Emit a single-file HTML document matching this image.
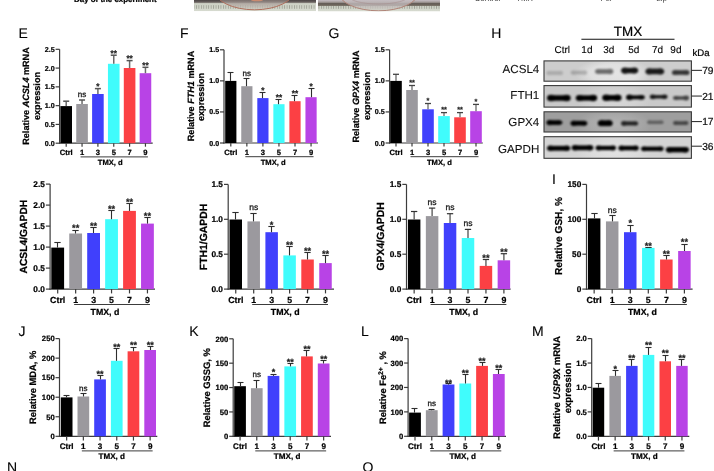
<!DOCTYPE html>
<html><head><meta charset="utf-8"><style>
html,body{margin:0;padding:0;background:#fff;overflow:hidden;}
svg{display:block;font-family:"Liberation Sans", sans-serif;will-change:transform;text-rendering:geometricPrecision;}
</style></head><body>
<svg width="714" height="471" viewBox="0 0 714 471" font-family='"Liberation Sans", sans-serif'>
<rect width="714" height="471" fill="#fff"/>
<text x="115.3" y="2" font-size="7.9" font-weight="bold" text-anchor="middle" fill="#000" stroke="#000" stroke-width="0.22" >Day of the experiment</text>
<defs><linearGradient id="ph1" x1="0" y1="0" x2="0" y2="11.2" gradientUnits="userSpaceOnUse"><stop offset="0" stop-color="#4a4444"/><stop offset="0.2" stop-color="#6a6260"/><stop offset="0.32" stop-color="#cdd1c5"/><stop offset="1" stop-color="#d6dacf"/></linearGradient><linearGradient id="ph2" x1="0" y1="0" x2="0" y2="11.5" gradientUnits="userSpaceOnUse"><stop offset="0" stop-color="#c6bec4"/><stop offset="0.2" stop-color="#a09896"/><stop offset="0.32" stop-color="#5e5650"/><stop offset="0.48" stop-color="#7a7268"/><stop offset="0.56" stop-color="#cfd3c7"/><stop offset="1" stop-color="#d6dacf"/></linearGradient><linearGradient id="dish1" x1="0" y1="0" x2="0" y2="10" gradientUnits="userSpaceOnUse"><stop offset="0" stop-color="#8a7e7a"/><stop offset="0.5" stop-color="#b4aaa4"/><stop offset="1" stop-color="#cfcfc4"/></linearGradient><linearGradient id="dish2" x1="0" y1="0" x2="0" y2="11" gradientUnits="userSpaceOnUse"><stop offset="0" stop-color="#c4bcc0"/><stop offset="0.5" stop-color="#c0b8b8"/><stop offset="1" stop-color="#d0d0c6"/></linearGradient><pattern id="rul" x="0" y="0" width="2.45" height="12" patternUnits="userSpaceOnUse"><rect x="0" y="5.2" width="0.9" height="3.6" fill="#6d7066" fill-opacity="0.5"/></pattern><clipPath id="cp1"><rect x="194" y="0" width="122" height="11.2"/></clipPath><clipPath id="cp2"><rect x="317.8" y="0" width="122.2" height="11.5"/></clipPath></defs>
<g clip-path="url(#cp1)"><rect x="194" y="0" width="122" height="11.2" fill="url(#ph1)"/><rect x="194" y="0" width="122" height="11.2" fill="url(#rul)"/><ellipse cx="254.5" cy="-10" rx="40" ry="19.8" fill="url(#dish1)" fill-opacity="0.75" stroke="#b0705e" stroke-width="1"/><ellipse cx="257" cy="0" rx="6" ry="1.3" fill="#c98a70"/></g>
<g clip-path="url(#cp2)"><rect x="317.8" y="0" width="122.2" height="11.5" fill="url(#ph2)"/><rect x="317.8" y="0" width="122.2" height="11.5" fill="url(#rul)"/><ellipse cx="378.5" cy="-8" rx="40" ry="18.8" fill="url(#dish2)" fill-opacity="0.8" stroke="#b08478" stroke-width="1"/><ellipse cx="378.5" cy="-4" rx="30" ry="8" fill="none" stroke="#a89090" stroke-width="0.6"/></g>
<text x="487.5" y="1.2" font-size="8" font-weight="normal" text-anchor="middle" fill="#444" >Control</text>
<text x="524.5" y="1.2" font-size="8" font-weight="normal" text-anchor="middle" fill="#444" >TMX</text>
<text x="606.5" y="1.2" font-size="8" font-weight="normal" text-anchor="middle" fill="#444" >Fer</text>
<text x="661.5" y="1.2" font-size="8" font-weight="normal" text-anchor="middle" fill="#444" >Lip</text>
<line x1="59.6" y1="49.3" x2="59.6" y2="143.8" stroke="#3c3c3c" stroke-width="1.2"/>
<line x1="59" y1="143.2" x2="152.7" y2="143.2" stroke="#3c3c3c" stroke-width="1.2"/>
<line x1="55.6" y1="143.2" x2="59.6" y2="143.2" stroke="#3c3c3c" stroke-width="1.2"/>
<text x="54.7" y="145.76" font-size="7.1" font-weight="bold" text-anchor="end" fill="#000" stroke="#000" stroke-width="0.22" >0.0</text>
<line x1="55.6" y1="124.42" x2="59.6" y2="124.42" stroke="#3c3c3c" stroke-width="1.2"/>
<text x="54.7" y="126.98" font-size="7.1" font-weight="bold" text-anchor="end" fill="#000" stroke="#000" stroke-width="0.22" >0.5</text>
<line x1="55.6" y1="105.64" x2="59.6" y2="105.64" stroke="#3c3c3c" stroke-width="1.2"/>
<text x="54.7" y="108.2" font-size="7.1" font-weight="bold" text-anchor="end" fill="#000" stroke="#000" stroke-width="0.22" >1.0</text>
<line x1="55.6" y1="86.86" x2="59.6" y2="86.86" stroke="#3c3c3c" stroke-width="1.2"/>
<text x="54.7" y="89.42" font-size="7.1" font-weight="bold" text-anchor="end" fill="#000" stroke="#000" stroke-width="0.22" >1.5</text>
<line x1="55.6" y1="68.08" x2="59.6" y2="68.08" stroke="#3c3c3c" stroke-width="1.2"/>
<text x="54.7" y="70.64" font-size="7.1" font-weight="bold" text-anchor="end" fill="#000" stroke="#000" stroke-width="0.22" >2.0</text>
<line x1="55.6" y1="49.3" x2="59.6" y2="49.3" stroke="#3c3c3c" stroke-width="1.2"/>
<text x="54.7" y="51.86" font-size="7.1" font-weight="bold" text-anchor="end" fill="#000" stroke="#000" stroke-width="0.22" >2.5</text>
<rect x="60.4" y="106.1" width="11.6" height="37.1" fill="#000000"/>
<line x1="66.2" y1="101.2" x2="66.2" y2="106.1" stroke="#6a6a6a" stroke-width="1.5"/>
<line x1="63.2" y1="101.2" x2="69.2" y2="101.2" stroke="#555" stroke-width="1.5"/>
<rect x="76.25" y="104" width="11.6" height="39.2" fill="#9b999e"/>
<line x1="82.05" y1="100" x2="82.05" y2="104" stroke="#6a6a6a" stroke-width="1.5"/>
<line x1="79.05" y1="100" x2="85.05" y2="100" stroke="#555" stroke-width="1.5"/>
<text x="82.05" y="97.2" font-size="8" font-weight="normal" text-anchor="middle" fill="#1a1a1a" stroke="#1a1a1a" stroke-width="0.3" >ns</text>
<rect x="92.1" y="94" width="11.6" height="49.2" fill="#4040fc"/>
<line x1="97.9" y1="88.6" x2="97.9" y2="94" stroke="#6a6a6a" stroke-width="1.5"/>
<line x1="94.9" y1="88.6" x2="100.9" y2="88.6" stroke="#555" stroke-width="1.5"/>
<text x="97.9" y="89.4" font-size="8.2" font-weight="bold" text-anchor="middle" fill="#222" stroke="#222" stroke-width="0.22" >*</text>
<rect x="107.95" y="63.8" width="11.6" height="79.4" fill="#40fcfc"/>
<line x1="113.75" y1="55.2" x2="113.75" y2="63.8" stroke="#6a6a6a" stroke-width="1.5"/>
<line x1="110.75" y1="55.2" x2="116.75" y2="55.2" stroke="#555" stroke-width="1.5"/>
<text x="113.75" y="56" font-size="8.2" font-weight="bold" text-anchor="middle" fill="#222" stroke="#222" stroke-width="0.22" >**</text>
<rect x="123.8" y="68" width="11.6" height="75.2" fill="#fc4044"/>
<line x1="129.6" y1="60.6" x2="129.6" y2="68" stroke="#6a6a6a" stroke-width="1.5"/>
<line x1="126.6" y1="60.6" x2="132.6" y2="60.6" stroke="#555" stroke-width="1.5"/>
<text x="129.6" y="61.4" font-size="8.2" font-weight="bold" text-anchor="middle" fill="#222" stroke="#222" stroke-width="0.22" >**</text>
<rect x="139.65" y="73.2" width="11.6" height="70" fill="#b843e6"/>
<line x1="145.45" y1="67.3" x2="145.45" y2="73.2" stroke="#6a6a6a" stroke-width="1.5"/>
<line x1="142.45" y1="67.3" x2="148.45" y2="67.3" stroke="#555" stroke-width="1.5"/>
<text x="145.45" y="68.1" font-size="8.2" font-weight="bold" text-anchor="middle" fill="#222" stroke="#222" stroke-width="0.22" >**</text>
<line x1="66.2" y1="143.2" x2="66.2" y2="146.7" stroke="#3c3c3c" stroke-width="1.2"/>
<line x1="82.05" y1="143.2" x2="82.05" y2="146.7" stroke="#3c3c3c" stroke-width="1.2"/>
<line x1="97.9" y1="143.2" x2="97.9" y2="146.7" stroke="#3c3c3c" stroke-width="1.2"/>
<line x1="113.75" y1="143.2" x2="113.75" y2="146.7" stroke="#3c3c3c" stroke-width="1.2"/>
<line x1="129.6" y1="143.2" x2="129.6" y2="146.7" stroke="#3c3c3c" stroke-width="1.2"/>
<line x1="145.45" y1="143.2" x2="145.45" y2="146.7" stroke="#3c3c3c" stroke-width="1.2"/>
<text x="66.2" y="155.2" font-size="7.6" font-weight="bold" text-anchor="middle" fill="#000" stroke="#000" stroke-width="0.22" >Ctrl</text>
<text x="82.05" y="155.2" font-size="7.6" font-weight="bold" text-anchor="middle" fill="#000" stroke="#000" stroke-width="0.22" >1</text>
<text x="97.9" y="155.2" font-size="7.6" font-weight="bold" text-anchor="middle" fill="#000" stroke="#000" stroke-width="0.22" >3</text>
<text x="113.75" y="155.2" font-size="7.6" font-weight="bold" text-anchor="middle" fill="#000" stroke="#000" stroke-width="0.22" >5</text>
<text x="129.6" y="155.2" font-size="7.6" font-weight="bold" text-anchor="middle" fill="#000" stroke="#000" stroke-width="0.22" >7</text>
<text x="145.45" y="155.2" font-size="7.6" font-weight="bold" text-anchor="middle" fill="#000" stroke="#000" stroke-width="0.22" >9</text>
<line x1="80.55" y1="156.9" x2="147.95" y2="156.9" stroke="#3c3c3c" stroke-width="1"/>
<text x="110.25" y="165" font-size="7.6" font-weight="bold" text-anchor="middle" fill="#000" stroke="#000" stroke-width="0.22" >TMX, d</text>
<text transform="translate(28.9,96) rotate(-90)" x="0" y="0" font-size="9.1" font-weight="bold" text-anchor="middle" stroke="#000" stroke-width="0.22">Relative <tspan font-style="italic">ACSL4</tspan> mRNA</text>
<text transform="translate(39.7,96) rotate(-90)" x="0" y="0" font-size="9.1" font-weight="bold" text-anchor="middle" stroke="#000" stroke-width="0.22">expression</text>
<line x1="224" y1="49.8" x2="224" y2="143.6" stroke="#3c3c3c" stroke-width="1.2"/>
<line x1="223.4" y1="143" x2="318" y2="143" stroke="#3c3c3c" stroke-width="1.2"/>
<line x1="220" y1="143" x2="224" y2="143" stroke="#3c3c3c" stroke-width="1.2"/>
<text x="219.1" y="145.56" font-size="7.1" font-weight="bold" text-anchor="end" fill="#000" stroke="#000" stroke-width="0.22" >0.0</text>
<line x1="220" y1="111.93" x2="224" y2="111.93" stroke="#3c3c3c" stroke-width="1.2"/>
<text x="219.1" y="114.49" font-size="7.1" font-weight="bold" text-anchor="end" fill="#000" stroke="#000" stroke-width="0.22" >0.5</text>
<line x1="220" y1="80.87" x2="224" y2="80.87" stroke="#3c3c3c" stroke-width="1.2"/>
<text x="219.1" y="83.42" font-size="7.1" font-weight="bold" text-anchor="end" fill="#000" stroke="#000" stroke-width="0.22" >1.0</text>
<line x1="220" y1="49.8" x2="224" y2="49.8" stroke="#3c3c3c" stroke-width="1.2"/>
<text x="219.1" y="52.36" font-size="7.1" font-weight="bold" text-anchor="end" fill="#000" stroke="#000" stroke-width="0.22" >1.5</text>
<rect x="225.2" y="80.9" width="11.2" height="62.1" fill="#000000"/>
<line x1="230.5" y1="72.5" x2="230.5" y2="80.9" stroke="#2e2e2e" stroke-width="1.1"/>
<line x1="227.5" y1="72.5" x2="233.5" y2="72.5" stroke="#2e2e2e" stroke-width="1.1"/>
<rect x="241.25" y="86.2" width="11.2" height="56.8" fill="#9b999e"/>
<line x1="246.5" y1="78.5" x2="246.5" y2="86.2" stroke="#2e2e2e" stroke-width="1.1"/>
<line x1="243.5" y1="78.5" x2="249.5" y2="78.5" stroke="#2e2e2e" stroke-width="1.1"/>
<text x="246.85" y="75.7" font-size="8" font-weight="normal" text-anchor="middle" fill="#1a1a1a" stroke="#1a1a1a" stroke-width="0.3" >ns</text>
<rect x="257.3" y="98.1" width="11.2" height="44.9" fill="#4040fc"/>
<line x1="262.5" y1="92.5" x2="262.5" y2="98.1" stroke="#2e2e2e" stroke-width="1.1"/>
<line x1="259.5" y1="92.5" x2="265.5" y2="92.5" stroke="#2e2e2e" stroke-width="1.1"/>
<text x="262.9" y="93.1" font-size="8.2" font-weight="bold" text-anchor="middle" fill="#222" stroke="#222" stroke-width="0.22" >*</text>
<rect x="273.35" y="104.2" width="11.2" height="38.8" fill="#40fcfc"/>
<line x1="278.5" y1="99.5" x2="278.5" y2="104.2" stroke="#2e2e2e" stroke-width="1.1"/>
<line x1="275.5" y1="99.5" x2="281.5" y2="99.5" stroke="#2e2e2e" stroke-width="1.1"/>
<text x="278.95" y="100.1" font-size="8.2" font-weight="bold" text-anchor="middle" fill="#222" stroke="#222" stroke-width="0.22" >**</text>
<rect x="289.4" y="101.2" width="11.2" height="41.8" fill="#fc4044"/>
<line x1="294.5" y1="95.5" x2="294.5" y2="101.2" stroke="#2e2e2e" stroke-width="1.1"/>
<line x1="291.5" y1="95.5" x2="297.5" y2="95.5" stroke="#2e2e2e" stroke-width="1.1"/>
<text x="295" y="96.1" font-size="8.2" font-weight="bold" text-anchor="middle" fill="#222" stroke="#222" stroke-width="0.22" >**</text>
<rect x="305.45" y="97.2" width="11.2" height="45.8" fill="#b843e6"/>
<line x1="311.5" y1="88.5" x2="311.5" y2="97.2" stroke="#2e2e2e" stroke-width="1.1"/>
<line x1="308.5" y1="88.5" x2="314.5" y2="88.5" stroke="#2e2e2e" stroke-width="1.1"/>
<text x="311.05" y="89.4" font-size="8.2" font-weight="bold" text-anchor="middle" fill="#222" stroke="#222" stroke-width="0.22" >*</text>
<line x1="230.8" y1="143" x2="230.8" y2="146.5" stroke="#3c3c3c" stroke-width="1.2"/>
<line x1="246.85" y1="143" x2="246.85" y2="146.5" stroke="#3c3c3c" stroke-width="1.2"/>
<line x1="262.9" y1="143" x2="262.9" y2="146.5" stroke="#3c3c3c" stroke-width="1.2"/>
<line x1="278.95" y1="143" x2="278.95" y2="146.5" stroke="#3c3c3c" stroke-width="1.2"/>
<line x1="295" y1="143" x2="295" y2="146.5" stroke="#3c3c3c" stroke-width="1.2"/>
<line x1="311.05" y1="143" x2="311.05" y2="146.5" stroke="#3c3c3c" stroke-width="1.2"/>
<text x="230.8" y="155" font-size="7.6" font-weight="bold" text-anchor="middle" fill="#000" stroke="#000" stroke-width="0.22" >Ctrl</text>
<text x="246.85" y="155" font-size="7.6" font-weight="bold" text-anchor="middle" fill="#000" stroke="#000" stroke-width="0.22" >1</text>
<text x="262.9" y="155" font-size="7.6" font-weight="bold" text-anchor="middle" fill="#000" stroke="#000" stroke-width="0.22" >3</text>
<text x="278.95" y="155" font-size="7.6" font-weight="bold" text-anchor="middle" fill="#000" stroke="#000" stroke-width="0.22" >5</text>
<text x="295" y="155" font-size="7.6" font-weight="bold" text-anchor="middle" fill="#000" stroke="#000" stroke-width="0.22" >7</text>
<text x="311.05" y="155" font-size="7.6" font-weight="bold" text-anchor="middle" fill="#000" stroke="#000" stroke-width="0.22" >9</text>
<line x1="245.35" y1="156.7" x2="313.55" y2="156.7" stroke="#3c3c3c" stroke-width="1"/>
<text x="273.15" y="164.8" font-size="7.6" font-weight="bold" text-anchor="middle" fill="#000" stroke="#000" stroke-width="0.22" >TMX, d</text>
<text transform="translate(193.6,96) rotate(-90)" x="0" y="0" font-size="9.1" font-weight="bold" text-anchor="middle" stroke="#000" stroke-width="0.22">Relative <tspan font-style="italic">FTH1</tspan> mRNA</text>
<text transform="translate(203.9,97) rotate(-90)" x="0" y="0" font-size="9.1" font-weight="bold" text-anchor="middle" stroke="#000" stroke-width="0.22">expression</text>
<line x1="389.6" y1="49.8" x2="389.6" y2="143.6" stroke="#3c3c3c" stroke-width="1.2"/>
<line x1="389" y1="143" x2="482.8" y2="143" stroke="#3c3c3c" stroke-width="1.2"/>
<line x1="385.6" y1="143" x2="389.6" y2="143" stroke="#3c3c3c" stroke-width="1.2"/>
<text x="384.7" y="145.56" font-size="7.1" font-weight="bold" text-anchor="end" fill="#000" stroke="#000" stroke-width="0.22" >0.0</text>
<line x1="385.6" y1="111.93" x2="389.6" y2="111.93" stroke="#3c3c3c" stroke-width="1.2"/>
<text x="384.7" y="114.49" font-size="7.1" font-weight="bold" text-anchor="end" fill="#000" stroke="#000" stroke-width="0.22" >0.5</text>
<line x1="385.6" y1="80.87" x2="389.6" y2="80.87" stroke="#3c3c3c" stroke-width="1.2"/>
<text x="384.7" y="83.42" font-size="7.1" font-weight="bold" text-anchor="end" fill="#000" stroke="#000" stroke-width="0.22" >1.0</text>
<line x1="385.6" y1="49.8" x2="389.6" y2="49.8" stroke="#3c3c3c" stroke-width="1.2"/>
<text x="384.7" y="52.36" font-size="7.1" font-weight="bold" text-anchor="end" fill="#000" stroke="#000" stroke-width="0.22" >1.5</text>
<rect x="390.2" y="80.9" width="11.6" height="62.1" fill="#000000"/>
<line x1="396" y1="74.3" x2="396" y2="80.9" stroke="#6a6a6a" stroke-width="1.3"/>
<line x1="393" y1="74.3" x2="399" y2="74.3" stroke="#444" stroke-width="1.3"/>
<rect x="406.2" y="90" width="11.6" height="53" fill="#9b999e"/>
<line x1="412" y1="85.5" x2="412" y2="90" stroke="#6a6a6a" stroke-width="1.3"/>
<line x1="409" y1="85.5" x2="415" y2="85.5" stroke="#444" stroke-width="1.3"/>
<text x="412" y="85.11" font-size="7.3" font-weight="bold" text-anchor="middle" fill="#222" stroke="#222" stroke-width="0.22" >**</text>
<rect x="422.2" y="109.3" width="11.6" height="33.7" fill="#4040fc"/>
<line x1="428" y1="103.5" x2="428" y2="109.3" stroke="#6a6a6a" stroke-width="1.3"/>
<line x1="425" y1="103.5" x2="431" y2="103.5" stroke="#444" stroke-width="1.3"/>
<text x="428" y="103.11" font-size="7.3" font-weight="bold" text-anchor="middle" fill="#222" stroke="#222" stroke-width="0.22" >*</text>
<rect x="438.2" y="116.1" width="11.6" height="26.9" fill="#40fcfc"/>
<line x1="444" y1="112.6" x2="444" y2="116.1" stroke="#6a6a6a" stroke-width="1.3"/>
<line x1="441" y1="112.6" x2="447" y2="112.6" stroke="#444" stroke-width="1.3"/>
<text x="444" y="112.21" font-size="7.3" font-weight="bold" text-anchor="middle" fill="#222" stroke="#222" stroke-width="0.22" >**</text>
<rect x="454.2" y="117.3" width="11.6" height="25.7" fill="#fc4044"/>
<line x1="460" y1="112.6" x2="460" y2="117.3" stroke="#6a6a6a" stroke-width="1.3"/>
<line x1="457" y1="112.6" x2="463" y2="112.6" stroke="#444" stroke-width="1.3"/>
<text x="460" y="112.21" font-size="7.3" font-weight="bold" text-anchor="middle" fill="#222" stroke="#222" stroke-width="0.22" >**</text>
<rect x="470.2" y="111.2" width="11.6" height="31.8" fill="#b843e6"/>
<line x1="476" y1="104.4" x2="476" y2="111.2" stroke="#6a6a6a" stroke-width="1.3"/>
<line x1="473" y1="104.4" x2="479" y2="104.4" stroke="#444" stroke-width="1.3"/>
<text x="476" y="104.01" font-size="7.3" font-weight="bold" text-anchor="middle" fill="#222" stroke="#222" stroke-width="0.22" >*</text>
<line x1="396" y1="143" x2="396" y2="146.5" stroke="#3c3c3c" stroke-width="1.2"/>
<line x1="412" y1="143" x2="412" y2="146.5" stroke="#3c3c3c" stroke-width="1.2"/>
<line x1="428" y1="143" x2="428" y2="146.5" stroke="#3c3c3c" stroke-width="1.2"/>
<line x1="444" y1="143" x2="444" y2="146.5" stroke="#3c3c3c" stroke-width="1.2"/>
<line x1="460" y1="143" x2="460" y2="146.5" stroke="#3c3c3c" stroke-width="1.2"/>
<line x1="476" y1="143" x2="476" y2="146.5" stroke="#3c3c3c" stroke-width="1.2"/>
<text x="396" y="155" font-size="7.6" font-weight="bold" text-anchor="middle" fill="#000" stroke="#000" stroke-width="0.22" >Ctrl</text>
<text x="412" y="155" font-size="7.6" font-weight="bold" text-anchor="middle" fill="#000" stroke="#000" stroke-width="0.22" >1</text>
<text x="428" y="155" font-size="7.6" font-weight="bold" text-anchor="middle" fill="#000" stroke="#000" stroke-width="0.22" >3</text>
<text x="444" y="155" font-size="7.6" font-weight="bold" text-anchor="middle" fill="#000" stroke="#000" stroke-width="0.22" >5</text>
<text x="460" y="155" font-size="7.6" font-weight="bold" text-anchor="middle" fill="#000" stroke="#000" stroke-width="0.22" >7</text>
<text x="476" y="155" font-size="7.6" font-weight="bold" text-anchor="middle" fill="#000" stroke="#000" stroke-width="0.22" >9</text>
<line x1="410.5" y1="156.7" x2="478.5" y2="156.7" stroke="#3c3c3c" stroke-width="1"/>
<text x="439.4" y="164.8" font-size="7.6" font-weight="bold" text-anchor="middle" fill="#000" stroke="#000" stroke-width="0.22" >TMX, d</text>
<text transform="translate(358.7,96.5) rotate(-90)" x="0" y="0" font-size="9.1" font-weight="bold" text-anchor="middle" stroke="#000" stroke-width="0.22">Relative <tspan font-style="italic">GPX4</tspan> mRNA</text>
<text transform="translate(369.7,96) rotate(-90)" x="0" y="0" font-size="9.1" font-weight="bold" text-anchor="middle" stroke="#000" stroke-width="0.22">expression</text>
<line x1="50.1" y1="184.1" x2="50.1" y2="289.7" stroke="#3c3c3c" stroke-width="1.2"/>
<line x1="49.5" y1="289.1" x2="155" y2="289.1" stroke="#3c3c3c" stroke-width="1.2"/>
<line x1="45.9" y1="289.1" x2="50.1" y2="289.1" stroke="#3c3c3c" stroke-width="1.2"/>
<text x="44.9" y="292.09" font-size="8.3" font-weight="bold" text-anchor="end" fill="#000" stroke="#000" stroke-width="0.22" >0.0</text>
<line x1="45.9" y1="268.1" x2="50.1" y2="268.1" stroke="#3c3c3c" stroke-width="1.2"/>
<text x="44.9" y="271.09" font-size="8.3" font-weight="bold" text-anchor="end" fill="#000" stroke="#000" stroke-width="0.22" >0.5</text>
<line x1="45.9" y1="247.1" x2="50.1" y2="247.1" stroke="#3c3c3c" stroke-width="1.2"/>
<text x="44.9" y="250.09" font-size="8.3" font-weight="bold" text-anchor="end" fill="#000" stroke="#000" stroke-width="0.22" >1.0</text>
<line x1="45.9" y1="226.1" x2="50.1" y2="226.1" stroke="#3c3c3c" stroke-width="1.2"/>
<text x="44.9" y="229.09" font-size="8.3" font-weight="bold" text-anchor="end" fill="#000" stroke="#000" stroke-width="0.22" >1.5</text>
<line x1="45.9" y1="205.1" x2="50.1" y2="205.1" stroke="#3c3c3c" stroke-width="1.2"/>
<text x="44.9" y="208.09" font-size="8.3" font-weight="bold" text-anchor="end" fill="#000" stroke="#000" stroke-width="0.22" >2.0</text>
<line x1="45.9" y1="184.1" x2="50.1" y2="184.1" stroke="#3c3c3c" stroke-width="1.2"/>
<text x="44.9" y="187.09" font-size="8.3" font-weight="bold" text-anchor="end" fill="#000" stroke="#000" stroke-width="0.22" >2.5</text>
<rect x="51.3" y="247.6" width="12.8" height="41.5" fill="#000000"/>
<line x1="57.5" y1="242.5" x2="57.5" y2="247.6" stroke="#2e2e2e" stroke-width="1.1"/>
<line x1="54.35" y1="242.5" x2="60.65" y2="242.5" stroke="#2e2e2e" stroke-width="1.1"/>
<rect x="69.25" y="233.5" width="12.8" height="55.6" fill="#9b999e"/>
<line x1="75.5" y1="230.5" x2="75.5" y2="233.5" stroke="#2e2e2e" stroke-width="1.1"/>
<line x1="72.35" y1="230.5" x2="78.65" y2="230.5" stroke="#2e2e2e" stroke-width="1.1"/>
<text x="75.65" y="231.35" font-size="9.3" font-weight="bold" text-anchor="middle" fill="#222" stroke="#222" stroke-width="0.22" >**</text>
<rect x="87.2" y="233" width="12.8" height="56.1" fill="#4040fc"/>
<line x1="93.5" y1="227.5" x2="93.5" y2="233" stroke="#2e2e2e" stroke-width="1.1"/>
<line x1="90.35" y1="227.5" x2="96.65" y2="227.5" stroke="#2e2e2e" stroke-width="1.1"/>
<text x="93.6" y="228.55" font-size="9.3" font-weight="bold" text-anchor="middle" fill="#222" stroke="#222" stroke-width="0.22" >**</text>
<rect x="105.15" y="219.2" width="12.8" height="69.9" fill="#40fcfc"/>
<line x1="111.5" y1="210.5" x2="111.5" y2="219.2" stroke="#2e2e2e" stroke-width="1.1"/>
<line x1="108.35" y1="210.5" x2="114.65" y2="210.5" stroke="#2e2e2e" stroke-width="1.1"/>
<text x="111.55" y="212.05" font-size="9.3" font-weight="bold" text-anchor="middle" fill="#222" stroke="#222" stroke-width="0.22" >**</text>
<rect x="123.1" y="210.9" width="12.8" height="78.2" fill="#fc4044"/>
<line x1="129.5" y1="203.5" x2="129.5" y2="210.9" stroke="#2e2e2e" stroke-width="1.1"/>
<line x1="126.35" y1="203.5" x2="132.65" y2="203.5" stroke="#2e2e2e" stroke-width="1.1"/>
<text x="129.5" y="204.55" font-size="9.3" font-weight="bold" text-anchor="middle" fill="#222" stroke="#222" stroke-width="0.22" >**</text>
<rect x="141.05" y="223.6" width="12.8" height="65.5" fill="#b843e6"/>
<line x1="147.5" y1="217.5" x2="147.5" y2="223.6" stroke="#2e2e2e" stroke-width="1.1"/>
<line x1="144.35" y1="217.5" x2="150.65" y2="217.5" stroke="#2e2e2e" stroke-width="1.1"/>
<text x="147.45" y="218.95" font-size="9.3" font-weight="bold" text-anchor="middle" fill="#222" stroke="#222" stroke-width="0.22" >**</text>
<line x1="57.7" y1="289.1" x2="57.7" y2="293.4" stroke="#3c3c3c" stroke-width="1.2"/>
<line x1="75.65" y1="289.1" x2="75.65" y2="293.4" stroke="#3c3c3c" stroke-width="1.2"/>
<line x1="93.6" y1="289.1" x2="93.6" y2="293.4" stroke="#3c3c3c" stroke-width="1.2"/>
<line x1="111.55" y1="289.1" x2="111.55" y2="293.4" stroke="#3c3c3c" stroke-width="1.2"/>
<line x1="129.5" y1="289.1" x2="129.5" y2="293.4" stroke="#3c3c3c" stroke-width="1.2"/>
<line x1="147.45" y1="289.1" x2="147.45" y2="293.4" stroke="#3c3c3c" stroke-width="1.2"/>
<text x="57.7" y="302.9" font-size="8.8" font-weight="bold" text-anchor="middle" fill="#000" stroke="#000" stroke-width="0.22" >Ctrl</text>
<text x="75.65" y="302.9" font-size="8.8" font-weight="bold" text-anchor="middle" fill="#000" stroke="#000" stroke-width="0.22" >1</text>
<text x="93.6" y="302.9" font-size="8.8" font-weight="bold" text-anchor="middle" fill="#000" stroke="#000" stroke-width="0.22" >3</text>
<text x="111.55" y="302.9" font-size="8.8" font-weight="bold" text-anchor="middle" fill="#000" stroke="#000" stroke-width="0.22" >5</text>
<text x="129.5" y="302.9" font-size="8.8" font-weight="bold" text-anchor="middle" fill="#000" stroke="#000" stroke-width="0.22" >7</text>
<text x="147.45" y="302.9" font-size="8.8" font-weight="bold" text-anchor="middle" fill="#000" stroke="#000" stroke-width="0.22" >9</text>
<line x1="74.15" y1="304.5" x2="149.95" y2="304.5" stroke="#3c3c3c" stroke-width="1"/>
<text x="104.95" y="314.9" font-size="8.8" font-weight="bold" text-anchor="middle" fill="#000" stroke="#000" stroke-width="0.22" >TMX, d</text>
<text transform="translate(26.9,236.6) rotate(-90)" x="0" y="0" font-size="10.3" font-weight="bold" text-anchor="middle" stroke="#000" stroke-width="0.22">ACSL4/GAPDH</text>
<line x1="228.2" y1="184.4" x2="228.2" y2="289.7" stroke="#3c3c3c" stroke-width="1.2"/>
<line x1="227.6" y1="289.1" x2="334" y2="289.1" stroke="#3c3c3c" stroke-width="1.2"/>
<line x1="224" y1="289.1" x2="228.2" y2="289.1" stroke="#3c3c3c" stroke-width="1.2"/>
<text x="223" y="292.09" font-size="8.3" font-weight="bold" text-anchor="end" fill="#000" stroke="#000" stroke-width="0.22" >0.0</text>
<line x1="224" y1="254.2" x2="228.2" y2="254.2" stroke="#3c3c3c" stroke-width="1.2"/>
<text x="223" y="257.19" font-size="8.3" font-weight="bold" text-anchor="end" fill="#000" stroke="#000" stroke-width="0.22" >0.5</text>
<line x1="224" y1="219.3" x2="228.2" y2="219.3" stroke="#3c3c3c" stroke-width="1.2"/>
<text x="223" y="222.29" font-size="8.3" font-weight="bold" text-anchor="end" fill="#000" stroke="#000" stroke-width="0.22" >1.0</text>
<line x1="224" y1="184.4" x2="228.2" y2="184.4" stroke="#3c3c3c" stroke-width="1.2"/>
<text x="223" y="187.39" font-size="8.3" font-weight="bold" text-anchor="end" fill="#000" stroke="#000" stroke-width="0.22" >1.5</text>
<rect x="229.5" y="219.5" width="12.5" height="69.6" fill="#000000"/>
<line x1="235.5" y1="212.5" x2="235.5" y2="219.5" stroke="#2e2e2e" stroke-width="1.1"/>
<line x1="232.35" y1="212.5" x2="238.65" y2="212.5" stroke="#2e2e2e" stroke-width="1.1"/>
<rect x="247.45" y="221.4" width="12.5" height="67.7" fill="#9b999e"/>
<line x1="253.5" y1="213.5" x2="253.5" y2="221.4" stroke="#2e2e2e" stroke-width="1.1"/>
<line x1="250.35" y1="213.5" x2="256.65" y2="213.5" stroke="#2e2e2e" stroke-width="1.1"/>
<text x="253.7" y="210.3" font-size="8.5" font-weight="normal" text-anchor="middle" fill="#1a1a1a" stroke="#1a1a1a" stroke-width="0.3" >ns</text>
<rect x="265.4" y="232.2" width="12.5" height="56.9" fill="#4040fc"/>
<line x1="271.5" y1="226.5" x2="271.5" y2="232.2" stroke="#2e2e2e" stroke-width="1.1"/>
<line x1="268.35" y1="226.5" x2="274.65" y2="226.5" stroke="#2e2e2e" stroke-width="1.1"/>
<text x="271.65" y="227.55" font-size="9.3" font-weight="bold" text-anchor="middle" fill="#222" stroke="#222" stroke-width="0.22" >*</text>
<rect x="283.35" y="255.4" width="12.5" height="33.7" fill="#40fcfc"/>
<line x1="289.5" y1="246.5" x2="289.5" y2="255.4" stroke="#2e2e2e" stroke-width="1.1"/>
<line x1="286.35" y1="246.5" x2="292.65" y2="246.5" stroke="#2e2e2e" stroke-width="1.1"/>
<text x="289.6" y="247.95" font-size="9.3" font-weight="bold" text-anchor="middle" fill="#222" stroke="#222" stroke-width="0.22" >**</text>
<rect x="301.3" y="259.5" width="12.5" height="29.6" fill="#fc4044"/>
<line x1="307.5" y1="252.5" x2="307.5" y2="259.5" stroke="#2e2e2e" stroke-width="1.1"/>
<line x1="304.35" y1="252.5" x2="310.65" y2="252.5" stroke="#2e2e2e" stroke-width="1.1"/>
<text x="307.55" y="254.05" font-size="9.3" font-weight="bold" text-anchor="middle" fill="#222" stroke="#222" stroke-width="0.22" >**</text>
<rect x="319.25" y="263.1" width="12.5" height="26" fill="#b843e6"/>
<line x1="325.5" y1="255.5" x2="325.5" y2="263.1" stroke="#2e2e2e" stroke-width="1.1"/>
<line x1="322.35" y1="255.5" x2="328.65" y2="255.5" stroke="#2e2e2e" stroke-width="1.1"/>
<text x="325.5" y="256.75" font-size="9.3" font-weight="bold" text-anchor="middle" fill="#222" stroke="#222" stroke-width="0.22" >**</text>
<line x1="235.75" y1="289.1" x2="235.75" y2="293.4" stroke="#3c3c3c" stroke-width="1.2"/>
<line x1="253.7" y1="289.1" x2="253.7" y2="293.4" stroke="#3c3c3c" stroke-width="1.2"/>
<line x1="271.65" y1="289.1" x2="271.65" y2="293.4" stroke="#3c3c3c" stroke-width="1.2"/>
<line x1="289.6" y1="289.1" x2="289.6" y2="293.4" stroke="#3c3c3c" stroke-width="1.2"/>
<line x1="307.55" y1="289.1" x2="307.55" y2="293.4" stroke="#3c3c3c" stroke-width="1.2"/>
<line x1="325.5" y1="289.1" x2="325.5" y2="293.4" stroke="#3c3c3c" stroke-width="1.2"/>
<text x="235.75" y="302.9" font-size="8.8" font-weight="bold" text-anchor="middle" fill="#000" stroke="#000" stroke-width="0.22" >Ctrl</text>
<text x="253.7" y="302.9" font-size="8.8" font-weight="bold" text-anchor="middle" fill="#000" stroke="#000" stroke-width="0.22" >1</text>
<text x="271.65" y="302.9" font-size="8.8" font-weight="bold" text-anchor="middle" fill="#000" stroke="#000" stroke-width="0.22" >3</text>
<text x="289.6" y="302.9" font-size="8.8" font-weight="bold" text-anchor="middle" fill="#000" stroke="#000" stroke-width="0.22" >5</text>
<text x="307.55" y="302.9" font-size="8.8" font-weight="bold" text-anchor="middle" fill="#000" stroke="#000" stroke-width="0.22" >7</text>
<text x="325.5" y="302.9" font-size="8.8" font-weight="bold" text-anchor="middle" fill="#000" stroke="#000" stroke-width="0.22" >9</text>
<line x1="252.2" y1="304.5" x2="328" y2="304.5" stroke="#3c3c3c" stroke-width="1"/>
<text x="285.2" y="314.9" font-size="8.8" font-weight="bold" text-anchor="middle" fill="#000" stroke="#000" stroke-width="0.22" >TMX, d</text>
<text transform="translate(206.9,237) rotate(-90)" x="0" y="0" font-size="10.4" font-weight="bold" text-anchor="middle" stroke="#000" stroke-width="0.22">FTH1/GAPDH</text>
<line x1="406.5" y1="184.4" x2="406.5" y2="289.7" stroke="#3c3c3c" stroke-width="1.2"/>
<line x1="405.9" y1="289.1" x2="510.6" y2="289.1" stroke="#3c3c3c" stroke-width="1.2"/>
<line x1="402.3" y1="289.1" x2="406.5" y2="289.1" stroke="#3c3c3c" stroke-width="1.2"/>
<text x="401.3" y="292.09" font-size="8.3" font-weight="bold" text-anchor="end" fill="#000" stroke="#000" stroke-width="0.22" >0.0</text>
<line x1="402.3" y1="254.2" x2="406.5" y2="254.2" stroke="#3c3c3c" stroke-width="1.2"/>
<text x="401.3" y="257.19" font-size="8.3" font-weight="bold" text-anchor="end" fill="#000" stroke="#000" stroke-width="0.22" >0.5</text>
<line x1="402.3" y1="219.3" x2="406.5" y2="219.3" stroke="#3c3c3c" stroke-width="1.2"/>
<text x="401.3" y="222.29" font-size="8.3" font-weight="bold" text-anchor="end" fill="#000" stroke="#000" stroke-width="0.22" >1.0</text>
<line x1="402.3" y1="184.4" x2="406.5" y2="184.4" stroke="#3c3c3c" stroke-width="1.2"/>
<text x="401.3" y="187.39" font-size="8.3" font-weight="bold" text-anchor="end" fill="#000" stroke="#000" stroke-width="0.22" >1.5</text>
<rect x="407.9" y="219.5" width="12.5" height="69.6" fill="#000000"/>
<line x1="414.15" y1="211.5" x2="414.15" y2="219.5" stroke="#444" stroke-width="1.2"/>
<line x1="411" y1="211.5" x2="417.3" y2="211.5" stroke="#333" stroke-width="1.2"/>
<rect x="425.85" y="216.1" width="12.5" height="73" fill="#9b999e"/>
<line x1="432.1" y1="208.1" x2="432.1" y2="216.1" stroke="#444" stroke-width="1.2"/>
<line x1="428.95" y1="208.1" x2="435.25" y2="208.1" stroke="#333" stroke-width="1.2"/>
<text x="432.1" y="204.8" font-size="8.5" font-weight="normal" text-anchor="middle" fill="#1a1a1a" stroke="#1a1a1a" stroke-width="0.3" >ns</text>
<rect x="443.8" y="223" width="12.5" height="66.1" fill="#4040fc"/>
<line x1="450.05" y1="213.7" x2="450.05" y2="223" stroke="#444" stroke-width="1.2"/>
<line x1="446.9" y1="213.7" x2="453.2" y2="213.7" stroke="#333" stroke-width="1.2"/>
<text x="450.05" y="210.4" font-size="8.5" font-weight="normal" text-anchor="middle" fill="#1a1a1a" stroke="#1a1a1a" stroke-width="0.3" >ns</text>
<rect x="461.75" y="238" width="12.5" height="51.1" fill="#40fcfc"/>
<line x1="468" y1="229.4" x2="468" y2="238" stroke="#444" stroke-width="1.2"/>
<line x1="464.85" y1="229.4" x2="471.15" y2="229.4" stroke="#333" stroke-width="1.2"/>
<text x="468" y="226.1" font-size="8.5" font-weight="normal" text-anchor="middle" fill="#1a1a1a" stroke="#1a1a1a" stroke-width="0.3" >ns</text>
<rect x="479.7" y="265.9" width="12.5" height="23.2" fill="#fc4044"/>
<line x1="485.95" y1="259.5" x2="485.95" y2="265.9" stroke="#444" stroke-width="1.2"/>
<line x1="482.8" y1="259.5" x2="489.1" y2="259.5" stroke="#333" stroke-width="1.2"/>
<text x="485.95" y="260.65" font-size="9.3" font-weight="bold" text-anchor="middle" fill="#222" stroke="#222" stroke-width="0.22" >**</text>
<rect x="497.65" y="260.3" width="12.5" height="28.8" fill="#b843e6"/>
<line x1="503.9" y1="253.7" x2="503.9" y2="260.3" stroke="#444" stroke-width="1.2"/>
<line x1="500.75" y1="253.7" x2="507.05" y2="253.7" stroke="#333" stroke-width="1.2"/>
<text x="503.9" y="254.85" font-size="9.3" font-weight="bold" text-anchor="middle" fill="#222" stroke="#222" stroke-width="0.22" >**</text>
<line x1="414.15" y1="289.1" x2="414.15" y2="293.4" stroke="#3c3c3c" stroke-width="1.2"/>
<line x1="432.1" y1="289.1" x2="432.1" y2="293.4" stroke="#3c3c3c" stroke-width="1.2"/>
<line x1="450.05" y1="289.1" x2="450.05" y2="293.4" stroke="#3c3c3c" stroke-width="1.2"/>
<line x1="468" y1="289.1" x2="468" y2="293.4" stroke="#3c3c3c" stroke-width="1.2"/>
<line x1="485.95" y1="289.1" x2="485.95" y2="293.4" stroke="#3c3c3c" stroke-width="1.2"/>
<line x1="503.9" y1="289.1" x2="503.9" y2="293.4" stroke="#3c3c3c" stroke-width="1.2"/>
<text x="414.15" y="302.9" font-size="8.8" font-weight="bold" text-anchor="middle" fill="#000" stroke="#000" stroke-width="0.22" >Ctrl</text>
<text x="432.1" y="302.9" font-size="8.8" font-weight="bold" text-anchor="middle" fill="#000" stroke="#000" stroke-width="0.22" >1</text>
<text x="450.05" y="302.9" font-size="8.8" font-weight="bold" text-anchor="middle" fill="#000" stroke="#000" stroke-width="0.22" >3</text>
<text x="468" y="302.9" font-size="8.8" font-weight="bold" text-anchor="middle" fill="#000" stroke="#000" stroke-width="0.22" >5</text>
<text x="485.95" y="302.9" font-size="8.8" font-weight="bold" text-anchor="middle" fill="#000" stroke="#000" stroke-width="0.22" >7</text>
<text x="503.9" y="302.9" font-size="8.8" font-weight="bold" text-anchor="middle" fill="#000" stroke="#000" stroke-width="0.22" >9</text>
<line x1="430.6" y1="304.5" x2="506.4" y2="304.5" stroke="#3c3c3c" stroke-width="1"/>
<text x="463.7" y="314.9" font-size="8.8" font-weight="bold" text-anchor="middle" fill="#000" stroke="#000" stroke-width="0.22" >TMX, d</text>
<text transform="translate(384,236.4) rotate(-90)" x="0" y="0" font-size="10.4" font-weight="bold" text-anchor="middle" stroke="#000" stroke-width="0.22">GPX4/GAPDH</text>
<line x1="586.5" y1="184.4" x2="586.5" y2="289.7" stroke="#3c3c3c" stroke-width="1.2"/>
<line x1="585.9" y1="289.1" x2="692.6" y2="289.1" stroke="#3c3c3c" stroke-width="1.2"/>
<line x1="582.3" y1="289.1" x2="586.5" y2="289.1" stroke="#3c3c3c" stroke-width="1.2"/>
<text x="581.3" y="292.09" font-size="8.3" font-weight="bold" text-anchor="end" fill="#000" stroke="#000" stroke-width="0.22" >0</text>
<line x1="582.3" y1="254.2" x2="586.5" y2="254.2" stroke="#3c3c3c" stroke-width="1.2"/>
<text x="581.3" y="257.19" font-size="8.3" font-weight="bold" text-anchor="end" fill="#000" stroke="#000" stroke-width="0.22" >50</text>
<line x1="582.3" y1="219.3" x2="586.5" y2="219.3" stroke="#3c3c3c" stroke-width="1.2"/>
<text x="581.3" y="222.29" font-size="8.3" font-weight="bold" text-anchor="end" fill="#000" stroke="#000" stroke-width="0.22" >100</text>
<line x1="582.3" y1="184.4" x2="586.5" y2="184.4" stroke="#3c3c3c" stroke-width="1.2"/>
<text x="581.3" y="187.39" font-size="8.3" font-weight="bold" text-anchor="end" fill="#000" stroke="#000" stroke-width="0.22" >150</text>
<rect x="587.9" y="218.4" width="12.5" height="70.7" fill="#000000"/>
<line x1="594.5" y1="213.5" x2="594.5" y2="218.4" stroke="#2e2e2e" stroke-width="1.1"/>
<line x1="591.35" y1="213.5" x2="597.65" y2="213.5" stroke="#2e2e2e" stroke-width="1.1"/>
<rect x="605.95" y="221.4" width="12.5" height="67.7" fill="#9b999e"/>
<line x1="612.5" y1="215.5" x2="612.5" y2="221.4" stroke="#2e2e2e" stroke-width="1.1"/>
<line x1="609.35" y1="215.5" x2="615.65" y2="215.5" stroke="#2e2e2e" stroke-width="1.1"/>
<text x="612.2" y="213.1" font-size="8.5" font-weight="normal" text-anchor="middle" fill="#1a1a1a" stroke="#1a1a1a" stroke-width="0.3" >ns</text>
<rect x="624" y="232.2" width="12.5" height="56.9" fill="#4040fc"/>
<line x1="630.5" y1="225.5" x2="630.5" y2="232.2" stroke="#2e2e2e" stroke-width="1.1"/>
<line x1="627.35" y1="225.5" x2="633.65" y2="225.5" stroke="#2e2e2e" stroke-width="1.1"/>
<text x="630.25" y="226.45" font-size="9.3" font-weight="bold" text-anchor="middle" fill="#222" stroke="#222" stroke-width="0.22" >*</text>
<rect x="642.05" y="247.9" width="12.5" height="41.2" fill="#40fcfc"/>
<line x1="648.5" y1="247.5" x2="648.5" y2="247.9" stroke="#2e2e2e" stroke-width="1.1"/>
<line x1="645.35" y1="247.5" x2="651.65" y2="247.5" stroke="#2e2e2e" stroke-width="1.1"/>
<text x="648.3" y="248.55" font-size="9.3" font-weight="bold" text-anchor="middle" fill="#222" stroke="#222" stroke-width="0.22" >**</text>
<rect x="660.1" y="259.5" width="12.5" height="29.6" fill="#fc4044"/>
<line x1="666.5" y1="255.5" x2="666.5" y2="259.5" stroke="#2e2e2e" stroke-width="1.1"/>
<line x1="663.35" y1="255.5" x2="669.65" y2="255.5" stroke="#2e2e2e" stroke-width="1.1"/>
<text x="666.35" y="256.75" font-size="9.3" font-weight="bold" text-anchor="middle" fill="#222" stroke="#222" stroke-width="0.22" >**</text>
<rect x="678.15" y="251" width="12.5" height="38.1" fill="#b843e6"/>
<line x1="684.5" y1="244.5" x2="684.5" y2="251" stroke="#2e2e2e" stroke-width="1.1"/>
<line x1="681.35" y1="244.5" x2="687.65" y2="244.5" stroke="#2e2e2e" stroke-width="1.1"/>
<text x="684.4" y="245.45" font-size="9.3" font-weight="bold" text-anchor="middle" fill="#222" stroke="#222" stroke-width="0.22" >**</text>
<line x1="594.15" y1="289.1" x2="594.15" y2="293.4" stroke="#3c3c3c" stroke-width="1.2"/>
<line x1="612.2" y1="289.1" x2="612.2" y2="293.4" stroke="#3c3c3c" stroke-width="1.2"/>
<line x1="630.25" y1="289.1" x2="630.25" y2="293.4" stroke="#3c3c3c" stroke-width="1.2"/>
<line x1="648.3" y1="289.1" x2="648.3" y2="293.4" stroke="#3c3c3c" stroke-width="1.2"/>
<line x1="666.35" y1="289.1" x2="666.35" y2="293.4" stroke="#3c3c3c" stroke-width="1.2"/>
<line x1="684.4" y1="289.1" x2="684.4" y2="293.4" stroke="#3c3c3c" stroke-width="1.2"/>
<text x="594.15" y="302.9" font-size="8.8" font-weight="bold" text-anchor="middle" fill="#000" stroke="#000" stroke-width="0.22" >Ctrl</text>
<text x="612.2" y="302.9" font-size="8.8" font-weight="bold" text-anchor="middle" fill="#000" stroke="#000" stroke-width="0.22" >1</text>
<text x="630.25" y="302.9" font-size="8.8" font-weight="bold" text-anchor="middle" fill="#000" stroke="#000" stroke-width="0.22" >3</text>
<text x="648.3" y="302.9" font-size="8.8" font-weight="bold" text-anchor="middle" fill="#000" stroke="#000" stroke-width="0.22" >5</text>
<text x="666.35" y="302.9" font-size="8.8" font-weight="bold" text-anchor="middle" fill="#000" stroke="#000" stroke-width="0.22" >7</text>
<text x="684.4" y="302.9" font-size="8.8" font-weight="bold" text-anchor="middle" fill="#000" stroke="#000" stroke-width="0.22" >9</text>
<line x1="610.7" y1="304.5" x2="686.9" y2="304.5" stroke="#3c3c3c" stroke-width="1"/>
<text x="642.4" y="314.9" font-size="8.8" font-weight="bold" text-anchor="middle" fill="#000" stroke="#000" stroke-width="0.22" >TMX, d</text>
<text transform="translate(562.3,236) rotate(-90)" x="0" y="0" font-size="10.1" font-weight="bold" text-anchor="middle" stroke="#000" stroke-width="0.22">Relative GSH, %</text>
<line x1="59.5" y1="338.6" x2="59.5" y2="436.9" stroke="#3c3c3c" stroke-width="1.2"/>
<line x1="58.9" y1="436.3" x2="157.3" y2="436.3" stroke="#3c3c3c" stroke-width="1.2"/>
<line x1="55.5" y1="436.3" x2="59.5" y2="436.3" stroke="#3c3c3c" stroke-width="1.2"/>
<text x="54.7" y="439.07" font-size="7.7" font-weight="bold" text-anchor="end" fill="#000" stroke="#000" stroke-width="0.22" >0</text>
<line x1="55.5" y1="416.76" x2="59.5" y2="416.76" stroke="#3c3c3c" stroke-width="1.2"/>
<text x="54.7" y="419.53" font-size="7.7" font-weight="bold" text-anchor="end" fill="#000" stroke="#000" stroke-width="0.22" >50</text>
<line x1="55.5" y1="397.22" x2="59.5" y2="397.22" stroke="#3c3c3c" stroke-width="1.2"/>
<text x="54.7" y="399.99" font-size="7.7" font-weight="bold" text-anchor="end" fill="#000" stroke="#000" stroke-width="0.22" >100</text>
<line x1="55.5" y1="377.68" x2="59.5" y2="377.68" stroke="#3c3c3c" stroke-width="1.2"/>
<text x="54.7" y="380.45" font-size="7.7" font-weight="bold" text-anchor="end" fill="#000" stroke="#000" stroke-width="0.22" >150</text>
<line x1="55.5" y1="358.14" x2="59.5" y2="358.14" stroke="#3c3c3c" stroke-width="1.2"/>
<text x="54.7" y="360.91" font-size="7.7" font-weight="bold" text-anchor="end" fill="#000" stroke="#000" stroke-width="0.22" >200</text>
<line x1="55.5" y1="338.6" x2="59.5" y2="338.6" stroke="#3c3c3c" stroke-width="1.2"/>
<text x="54.7" y="341.37" font-size="7.7" font-weight="bold" text-anchor="end" fill="#000" stroke="#000" stroke-width="0.22" >250</text>
<rect x="60.8" y="397.4" width="11.7" height="38.9" fill="#000000"/>
<line x1="66.5" y1="395.5" x2="66.5" y2="397.4" stroke="#2e2e2e" stroke-width="1.1"/>
<line x1="63.5" y1="395.5" x2="69.5" y2="395.5" stroke="#2e2e2e" stroke-width="1.1"/>
<rect x="77.5" y="396.5" width="11.7" height="39.8" fill="#9b999e"/>
<line x1="83.5" y1="393.5" x2="83.5" y2="396.5" stroke="#2e2e2e" stroke-width="1.1"/>
<line x1="80.5" y1="393.5" x2="86.5" y2="393.5" stroke="#2e2e2e" stroke-width="1.1"/>
<text x="83.35" y="391" font-size="8" font-weight="normal" text-anchor="middle" fill="#1a1a1a" stroke="#1a1a1a" stroke-width="0.3" >ns</text>
<rect x="94.2" y="379.4" width="11.7" height="56.9" fill="#4040fc"/>
<line x1="100.5" y1="375.5" x2="100.5" y2="379.4" stroke="#2e2e2e" stroke-width="1.1"/>
<line x1="97.5" y1="375.5" x2="103.5" y2="375.5" stroke="#2e2e2e" stroke-width="1.1"/>
<text x="100.05" y="376.55" font-size="9" font-weight="bold" text-anchor="middle" fill="#222" stroke="#222" stroke-width="0.22" >**</text>
<rect x="110.9" y="360.8" width="11.7" height="75.5" fill="#40fcfc"/>
<line x1="116.5" y1="348.5" x2="116.5" y2="360.8" stroke="#2e2e2e" stroke-width="1.1"/>
<line x1="113.5" y1="348.5" x2="119.5" y2="348.5" stroke="#2e2e2e" stroke-width="1.1"/>
<text x="116.75" y="349.85" font-size="9" font-weight="bold" text-anchor="middle" fill="#222" stroke="#222" stroke-width="0.22" >**</text>
<rect x="127.6" y="351.3" width="11.7" height="85" fill="#fc4044"/>
<line x1="133.5" y1="347.5" x2="133.5" y2="351.3" stroke="#2e2e2e" stroke-width="1.1"/>
<line x1="130.5" y1="347.5" x2="136.5" y2="347.5" stroke="#2e2e2e" stroke-width="1.1"/>
<text x="133.45" y="348.45" font-size="9" font-weight="bold" text-anchor="middle" fill="#222" stroke="#222" stroke-width="0.22" >**</text>
<rect x="144.3" y="350" width="11.7" height="86.3" fill="#b843e6"/>
<line x1="150.5" y1="346.5" x2="150.5" y2="350" stroke="#2e2e2e" stroke-width="1.1"/>
<line x1="147.5" y1="346.5" x2="153.5" y2="346.5" stroke="#2e2e2e" stroke-width="1.1"/>
<text x="150.15" y="347.65" font-size="9" font-weight="bold" text-anchor="middle" fill="#222" stroke="#222" stroke-width="0.22" >**</text>
<line x1="66.65" y1="436.3" x2="66.65" y2="440.6" stroke="#3c3c3c" stroke-width="1.2"/>
<line x1="83.35" y1="436.3" x2="83.35" y2="440.6" stroke="#3c3c3c" stroke-width="1.2"/>
<line x1="100.05" y1="436.3" x2="100.05" y2="440.6" stroke="#3c3c3c" stroke-width="1.2"/>
<line x1="116.75" y1="436.3" x2="116.75" y2="440.6" stroke="#3c3c3c" stroke-width="1.2"/>
<line x1="133.45" y1="436.3" x2="133.45" y2="440.6" stroke="#3c3c3c" stroke-width="1.2"/>
<line x1="150.15" y1="436.3" x2="150.15" y2="440.6" stroke="#3c3c3c" stroke-width="1.2"/>
<text x="66.65" y="449.2" font-size="8.1" font-weight="bold" text-anchor="middle" fill="#000" stroke="#000" stroke-width="0.22" >Ctrl</text>
<text x="83.35" y="449.2" font-size="8.1" font-weight="bold" text-anchor="middle" fill="#000" stroke="#000" stroke-width="0.22" >1</text>
<text x="100.05" y="449.2" font-size="8.1" font-weight="bold" text-anchor="middle" fill="#000" stroke="#000" stroke-width="0.22" >3</text>
<text x="116.75" y="449.2" font-size="8.1" font-weight="bold" text-anchor="middle" fill="#000" stroke="#000" stroke-width="0.22" >5</text>
<text x="133.45" y="449.2" font-size="8.1" font-weight="bold" text-anchor="middle" fill="#000" stroke="#000" stroke-width="0.22" >7</text>
<text x="150.15" y="449.2" font-size="8.1" font-weight="bold" text-anchor="middle" fill="#000" stroke="#000" stroke-width="0.22" >9</text>
<line x1="81.85" y1="450.9" x2="152.65" y2="450.9" stroke="#3c3c3c" stroke-width="1"/>
<text x="111.75" y="459.2" font-size="8.1" font-weight="bold" text-anchor="middle" fill="#000" stroke="#000" stroke-width="0.22" >TMX, d</text>
<text transform="translate(36.3,387.3) rotate(-90)" x="0" y="0" font-size="9.35" font-weight="bold" text-anchor="middle" stroke="#000" stroke-width="0.22">Relative MDA, %</text>
<line x1="233.2" y1="338.8" x2="233.2" y2="436.9" stroke="#3c3c3c" stroke-width="1.2"/>
<line x1="232.6" y1="436.3" x2="331" y2="436.3" stroke="#3c3c3c" stroke-width="1.2"/>
<line x1="229.2" y1="436.3" x2="233.2" y2="436.3" stroke="#3c3c3c" stroke-width="1.2"/>
<text x="228.4" y="439.07" font-size="7.7" font-weight="bold" text-anchor="end" fill="#000" stroke="#000" stroke-width="0.22" >0</text>
<line x1="229.2" y1="411.93" x2="233.2" y2="411.93" stroke="#3c3c3c" stroke-width="1.2"/>
<text x="228.4" y="414.7" font-size="7.7" font-weight="bold" text-anchor="end" fill="#000" stroke="#000" stroke-width="0.22" >50</text>
<line x1="229.2" y1="387.55" x2="233.2" y2="387.55" stroke="#3c3c3c" stroke-width="1.2"/>
<text x="228.4" y="390.32" font-size="7.7" font-weight="bold" text-anchor="end" fill="#000" stroke="#000" stroke-width="0.22" >100</text>
<line x1="229.2" y1="363.18" x2="233.2" y2="363.18" stroke="#3c3c3c" stroke-width="1.2"/>
<text x="228.4" y="365.95" font-size="7.7" font-weight="bold" text-anchor="end" fill="#000" stroke="#000" stroke-width="0.22" >150</text>
<line x1="229.2" y1="338.8" x2="233.2" y2="338.8" stroke="#3c3c3c" stroke-width="1.2"/>
<text x="228.4" y="341.57" font-size="7.7" font-weight="bold" text-anchor="end" fill="#000" stroke="#000" stroke-width="0.22" >200</text>
<rect x="234.2" y="386.2" width="11.7" height="50.1" fill="#000000"/>
<line x1="240.5" y1="382.5" x2="240.5" y2="386.2" stroke="#2e2e2e" stroke-width="1.1"/>
<line x1="237.5" y1="382.5" x2="243.5" y2="382.5" stroke="#2e2e2e" stroke-width="1.1"/>
<rect x="250.92" y="388.2" width="11.7" height="48.1" fill="#9b999e"/>
<line x1="256.5" y1="380.5" x2="256.5" y2="388.2" stroke="#2e2e2e" stroke-width="1.1"/>
<line x1="253.5" y1="380.5" x2="259.5" y2="380.5" stroke="#2e2e2e" stroke-width="1.1"/>
<text x="256.77" y="377.3" font-size="8" font-weight="normal" text-anchor="middle" fill="#1a1a1a" stroke="#1a1a1a" stroke-width="0.3" >ns</text>
<rect x="267.64" y="375.9" width="11.7" height="60.4" fill="#4040fc"/>
<line x1="273.5" y1="374.5" x2="273.5" y2="375.9" stroke="#2e2e2e" stroke-width="1.1"/>
<line x1="270.5" y1="374.5" x2="276.5" y2="374.5" stroke="#2e2e2e" stroke-width="1.1"/>
<text x="273.49" y="375.05" font-size="9" font-weight="bold" text-anchor="middle" fill="#222" stroke="#222" stroke-width="0.22" >*</text>
<rect x="284.36" y="366.4" width="11.7" height="69.9" fill="#40fcfc"/>
<line x1="290.5" y1="363.5" x2="290.5" y2="366.4" stroke="#2e2e2e" stroke-width="1.1"/>
<line x1="287.5" y1="363.5" x2="293.5" y2="363.5" stroke="#2e2e2e" stroke-width="1.1"/>
<text x="290.21" y="364.55" font-size="9" font-weight="bold" text-anchor="middle" fill="#222" stroke="#222" stroke-width="0.22" >**</text>
<rect x="301.08" y="356.4" width="11.7" height="79.9" fill="#fc4044"/>
<line x1="306.5" y1="350.5" x2="306.5" y2="356.4" stroke="#2e2e2e" stroke-width="1.1"/>
<line x1="303.5" y1="350.5" x2="309.5" y2="350.5" stroke="#2e2e2e" stroke-width="1.1"/>
<text x="306.93" y="352.05" font-size="9" font-weight="bold" text-anchor="middle" fill="#222" stroke="#222" stroke-width="0.22" >**</text>
<rect x="317.8" y="363.5" width="11.7" height="72.8" fill="#b843e6"/>
<line x1="323.5" y1="360.5" x2="323.5" y2="363.5" stroke="#2e2e2e" stroke-width="1.1"/>
<line x1="320.5" y1="360.5" x2="326.5" y2="360.5" stroke="#2e2e2e" stroke-width="1.1"/>
<text x="323.65" y="361.55" font-size="9" font-weight="bold" text-anchor="middle" fill="#222" stroke="#222" stroke-width="0.22" >**</text>
<line x1="240.05" y1="436.3" x2="240.05" y2="440.6" stroke="#3c3c3c" stroke-width="1.2"/>
<line x1="256.77" y1="436.3" x2="256.77" y2="440.6" stroke="#3c3c3c" stroke-width="1.2"/>
<line x1="273.49" y1="436.3" x2="273.49" y2="440.6" stroke="#3c3c3c" stroke-width="1.2"/>
<line x1="290.21" y1="436.3" x2="290.21" y2="440.6" stroke="#3c3c3c" stroke-width="1.2"/>
<line x1="306.93" y1="436.3" x2="306.93" y2="440.6" stroke="#3c3c3c" stroke-width="1.2"/>
<line x1="323.65" y1="436.3" x2="323.65" y2="440.6" stroke="#3c3c3c" stroke-width="1.2"/>
<text x="240.05" y="449.2" font-size="8.1" font-weight="bold" text-anchor="middle" fill="#000" stroke="#000" stroke-width="0.22" >Ctrl</text>
<text x="256.77" y="449.2" font-size="8.1" font-weight="bold" text-anchor="middle" fill="#000" stroke="#000" stroke-width="0.22" >1</text>
<text x="273.49" y="449.2" font-size="8.1" font-weight="bold" text-anchor="middle" fill="#000" stroke="#000" stroke-width="0.22" >3</text>
<text x="290.21" y="449.2" font-size="8.1" font-weight="bold" text-anchor="middle" fill="#000" stroke="#000" stroke-width="0.22" >5</text>
<text x="306.93" y="449.2" font-size="8.1" font-weight="bold" text-anchor="middle" fill="#000" stroke="#000" stroke-width="0.22" >7</text>
<text x="323.65" y="449.2" font-size="8.1" font-weight="bold" text-anchor="middle" fill="#000" stroke="#000" stroke-width="0.22" >9</text>
<line x1="255.27" y1="450.9" x2="326.15" y2="450.9" stroke="#3c3c3c" stroke-width="1"/>
<text x="287.11" y="459.2" font-size="8.1" font-weight="bold" text-anchor="middle" fill="#000" stroke="#000" stroke-width="0.22" >TMX, d</text>
<text transform="translate(210,387.7) rotate(-90)" x="0" y="0" font-size="9.35" font-weight="bold" text-anchor="middle" stroke="#000" stroke-width="0.22">Relative GSSG, %</text>
<line x1="408.1" y1="338.6" x2="408.1" y2="436.9" stroke="#3c3c3c" stroke-width="1.2"/>
<line x1="407.5" y1="436.3" x2="506" y2="436.3" stroke="#3c3c3c" stroke-width="1.2"/>
<line x1="404.1" y1="436.3" x2="408.1" y2="436.3" stroke="#3c3c3c" stroke-width="1.2"/>
<text x="403.3" y="439.07" font-size="7.7" font-weight="bold" text-anchor="end" fill="#000" stroke="#000" stroke-width="0.22" >0</text>
<line x1="404.1" y1="411.88" x2="408.1" y2="411.88" stroke="#3c3c3c" stroke-width="1.2"/>
<text x="403.3" y="414.65" font-size="7.7" font-weight="bold" text-anchor="end" fill="#000" stroke="#000" stroke-width="0.22" >100</text>
<line x1="404.1" y1="387.45" x2="408.1" y2="387.45" stroke="#3c3c3c" stroke-width="1.2"/>
<text x="403.3" y="390.22" font-size="7.7" font-weight="bold" text-anchor="end" fill="#000" stroke="#000" stroke-width="0.22" >200</text>
<line x1="404.1" y1="363.03" x2="408.1" y2="363.03" stroke="#3c3c3c" stroke-width="1.2"/>
<text x="403.3" y="365.8" font-size="7.7" font-weight="bold" text-anchor="end" fill="#000" stroke="#000" stroke-width="0.22" >300</text>
<line x1="404.1" y1="338.6" x2="408.1" y2="338.6" stroke="#3c3c3c" stroke-width="1.2"/>
<text x="403.3" y="341.37" font-size="7.7" font-weight="bold" text-anchor="end" fill="#000" stroke="#000" stroke-width="0.22" >400</text>
<rect x="409.1" y="412.6" width="11.8" height="23.7" fill="#000000"/>
<line x1="414.5" y1="408.5" x2="414.5" y2="412.6" stroke="#2e2e2e" stroke-width="1.1"/>
<line x1="411.5" y1="408.5" x2="417.5" y2="408.5" stroke="#2e2e2e" stroke-width="1.1"/>
<rect x="425.86" y="410.2" width="11.8" height="26.1" fill="#9b999e"/>
<line x1="431.5" y1="409.5" x2="431.5" y2="410.2" stroke="#2e2e2e" stroke-width="1.1"/>
<line x1="428.5" y1="409.5" x2="434.5" y2="409.5" stroke="#2e2e2e" stroke-width="1.1"/>
<text x="431.76" y="406.4" font-size="8" font-weight="normal" text-anchor="middle" fill="#1a1a1a" stroke="#1a1a1a" stroke-width="0.3" >ns</text>
<rect x="442.62" y="384.5" width="11.8" height="51.8" fill="#4040fc"/>
<line x1="448.5" y1="383.5" x2="448.5" y2="384.5" stroke="#2e2e2e" stroke-width="1.1"/>
<line x1="445.5" y1="383.5" x2="451.5" y2="383.5" stroke="#2e2e2e" stroke-width="1.1"/>
<text x="448.52" y="386.35" font-size="9" font-weight="bold" text-anchor="middle" fill="#222" stroke="#222" stroke-width="0.22" >**</text>
<rect x="459.38" y="383.5" width="11.8" height="52.8" fill="#40fcfc"/>
<line x1="465.5" y1="374.5" x2="465.5" y2="383.5" stroke="#2e2e2e" stroke-width="1.1"/>
<line x1="462.5" y1="374.5" x2="468.5" y2="374.5" stroke="#2e2e2e" stroke-width="1.1"/>
<text x="465.28" y="375.55" font-size="9" font-weight="bold" text-anchor="middle" fill="#222" stroke="#222" stroke-width="0.22" >**</text>
<rect x="476.14" y="365.9" width="11.8" height="70.4" fill="#fc4044"/>
<line x1="482.5" y1="362.5" x2="482.5" y2="365.9" stroke="#2e2e2e" stroke-width="1.1"/>
<line x1="479.5" y1="362.5" x2="485.5" y2="362.5" stroke="#2e2e2e" stroke-width="1.1"/>
<text x="482.04" y="363.95" font-size="9" font-weight="bold" text-anchor="middle" fill="#222" stroke="#222" stroke-width="0.22" >**</text>
<rect x="492.9" y="374" width="11.8" height="62.3" fill="#b843e6"/>
<line x1="498.5" y1="369.5" x2="498.5" y2="374" stroke="#2e2e2e" stroke-width="1.1"/>
<line x1="495.5" y1="369.5" x2="501.5" y2="369.5" stroke="#2e2e2e" stroke-width="1.1"/>
<text x="498.8" y="370.95" font-size="9" font-weight="bold" text-anchor="middle" fill="#222" stroke="#222" stroke-width="0.22" >**</text>
<line x1="415" y1="436.3" x2="415" y2="440.6" stroke="#3c3c3c" stroke-width="1.2"/>
<line x1="431.76" y1="436.3" x2="431.76" y2="440.6" stroke="#3c3c3c" stroke-width="1.2"/>
<line x1="448.52" y1="436.3" x2="448.52" y2="440.6" stroke="#3c3c3c" stroke-width="1.2"/>
<line x1="465.28" y1="436.3" x2="465.28" y2="440.6" stroke="#3c3c3c" stroke-width="1.2"/>
<line x1="482.04" y1="436.3" x2="482.04" y2="440.6" stroke="#3c3c3c" stroke-width="1.2"/>
<line x1="498.8" y1="436.3" x2="498.8" y2="440.6" stroke="#3c3c3c" stroke-width="1.2"/>
<text x="415" y="449.2" font-size="8.1" font-weight="bold" text-anchor="middle" fill="#000" stroke="#000" stroke-width="0.22" >Ctrl</text>
<text x="431.76" y="449.2" font-size="8.1" font-weight="bold" text-anchor="middle" fill="#000" stroke="#000" stroke-width="0.22" >1</text>
<text x="448.52" y="449.2" font-size="8.1" font-weight="bold" text-anchor="middle" fill="#000" stroke="#000" stroke-width="0.22" >3</text>
<text x="465.28" y="449.2" font-size="8.1" font-weight="bold" text-anchor="middle" fill="#000" stroke="#000" stroke-width="0.22" >5</text>
<text x="482.04" y="449.2" font-size="8.1" font-weight="bold" text-anchor="middle" fill="#000" stroke="#000" stroke-width="0.22" >7</text>
<text x="498.8" y="449.2" font-size="8.1" font-weight="bold" text-anchor="middle" fill="#000" stroke="#000" stroke-width="0.22" >9</text>
<line x1="430.26" y1="450.9" x2="501.3" y2="450.9" stroke="#3c3c3c" stroke-width="1"/>
<text x="462.68" y="459.2" font-size="8.1" font-weight="bold" text-anchor="middle" fill="#000" stroke="#000" stroke-width="0.22" >TMX, d</text>
<text transform="translate(386.2,387.6) rotate(-90)" x="0" y="0" font-size="9.3" font-weight="bold" text-anchor="middle" stroke="#000" stroke-width="0.22">Relative Fe<tspan dy="-3.6" font-size="6.8">2+</tspan><tspan dy="3.6"> , %</tspan></text>
<line x1="591.7" y1="338.6" x2="591.7" y2="436.9" stroke="#3c3c3c" stroke-width="1.2"/>
<line x1="591.1" y1="436.3" x2="689.3" y2="436.3" stroke="#3c3c3c" stroke-width="1.2"/>
<line x1="587.7" y1="436.3" x2="591.7" y2="436.3" stroke="#3c3c3c" stroke-width="1.2"/>
<text x="586.9" y="439.07" font-size="7.7" font-weight="bold" text-anchor="end" fill="#000" stroke="#000" stroke-width="0.22" >0.0</text>
<line x1="587.7" y1="411.88" x2="591.7" y2="411.88" stroke="#3c3c3c" stroke-width="1.2"/>
<text x="586.9" y="414.65" font-size="7.7" font-weight="bold" text-anchor="end" fill="#000" stroke="#000" stroke-width="0.22" >0.5</text>
<line x1="587.7" y1="387.45" x2="591.7" y2="387.45" stroke="#3c3c3c" stroke-width="1.2"/>
<text x="586.9" y="390.22" font-size="7.7" font-weight="bold" text-anchor="end" fill="#000" stroke="#000" stroke-width="0.22" >1.0</text>
<line x1="587.7" y1="363.03" x2="591.7" y2="363.03" stroke="#3c3c3c" stroke-width="1.2"/>
<text x="586.9" y="365.8" font-size="7.7" font-weight="bold" text-anchor="end" fill="#000" stroke="#000" stroke-width="0.22" >1.5</text>
<line x1="587.7" y1="338.6" x2="591.7" y2="338.6" stroke="#3c3c3c" stroke-width="1.2"/>
<text x="586.9" y="341.37" font-size="7.7" font-weight="bold" text-anchor="end" fill="#000" stroke="#000" stroke-width="0.22" >2.0</text>
<rect x="592.7" y="387.7" width="11.5" height="48.6" fill="#000000"/>
<line x1="598.5" y1="383.5" x2="598.5" y2="387.7" stroke="#2e2e2e" stroke-width="1.1"/>
<line x1="595.5" y1="383.5" x2="601.5" y2="383.5" stroke="#2e2e2e" stroke-width="1.1"/>
<rect x="609.4" y="375.9" width="11.5" height="60.4" fill="#9b999e"/>
<line x1="615.5" y1="370.5" x2="615.5" y2="375.9" stroke="#2e2e2e" stroke-width="1.1"/>
<line x1="612.5" y1="370.5" x2="618.5" y2="370.5" stroke="#2e2e2e" stroke-width="1.1"/>
<text x="615.15" y="372.05" font-size="9" font-weight="bold" text-anchor="middle" fill="#222" stroke="#222" stroke-width="0.22" >*</text>
<rect x="626.1" y="365.9" width="11.5" height="70.4" fill="#4040fc"/>
<line x1="631.5" y1="359.5" x2="631.5" y2="365.9" stroke="#2e2e2e" stroke-width="1.1"/>
<line x1="628.5" y1="359.5" x2="634.5" y2="359.5" stroke="#2e2e2e" stroke-width="1.1"/>
<text x="631.85" y="360.85" font-size="9" font-weight="bold" text-anchor="middle" fill="#222" stroke="#222" stroke-width="0.22" >**</text>
<rect x="642.8" y="354.9" width="11.5" height="81.4" fill="#40fcfc"/>
<line x1="648.5" y1="347.5" x2="648.5" y2="354.9" stroke="#2e2e2e" stroke-width="1.1"/>
<line x1="645.5" y1="347.5" x2="651.5" y2="347.5" stroke="#2e2e2e" stroke-width="1.1"/>
<text x="648.55" y="348.15" font-size="9" font-weight="bold" text-anchor="middle" fill="#222" stroke="#222" stroke-width="0.22" >**</text>
<rect x="659.5" y="361.3" width="11.5" height="75" fill="#fc4044"/>
<line x1="665.5" y1="355.5" x2="665.5" y2="361.3" stroke="#2e2e2e" stroke-width="1.1"/>
<line x1="662.5" y1="355.5" x2="668.5" y2="355.5" stroke="#2e2e2e" stroke-width="1.1"/>
<text x="665.25" y="356.45" font-size="9" font-weight="bold" text-anchor="middle" fill="#222" stroke="#222" stroke-width="0.22" >**</text>
<rect x="676.2" y="365.9" width="11.5" height="70.4" fill="#b843e6"/>
<line x1="681.5" y1="359.5" x2="681.5" y2="365.9" stroke="#2e2e2e" stroke-width="1.1"/>
<line x1="678.5" y1="359.5" x2="684.5" y2="359.5" stroke="#2e2e2e" stroke-width="1.1"/>
<text x="681.95" y="360.85" font-size="9" font-weight="bold" text-anchor="middle" fill="#222" stroke="#222" stroke-width="0.22" >**</text>
<line x1="598.45" y1="436.3" x2="598.45" y2="440.6" stroke="#3c3c3c" stroke-width="1.2"/>
<line x1="615.15" y1="436.3" x2="615.15" y2="440.6" stroke="#3c3c3c" stroke-width="1.2"/>
<line x1="631.85" y1="436.3" x2="631.85" y2="440.6" stroke="#3c3c3c" stroke-width="1.2"/>
<line x1="648.55" y1="436.3" x2="648.55" y2="440.6" stroke="#3c3c3c" stroke-width="1.2"/>
<line x1="665.25" y1="436.3" x2="665.25" y2="440.6" stroke="#3c3c3c" stroke-width="1.2"/>
<line x1="681.95" y1="436.3" x2="681.95" y2="440.6" stroke="#3c3c3c" stroke-width="1.2"/>
<text x="598.45" y="449.2" font-size="8.1" font-weight="bold" text-anchor="middle" fill="#000" stroke="#000" stroke-width="0.22" >Ctrl</text>
<text x="615.15" y="449.2" font-size="8.1" font-weight="bold" text-anchor="middle" fill="#000" stroke="#000" stroke-width="0.22" >1</text>
<text x="631.85" y="449.2" font-size="8.1" font-weight="bold" text-anchor="middle" fill="#000" stroke="#000" stroke-width="0.22" >3</text>
<text x="648.55" y="449.2" font-size="8.1" font-weight="bold" text-anchor="middle" fill="#000" stroke="#000" stroke-width="0.22" >5</text>
<text x="665.25" y="449.2" font-size="8.1" font-weight="bold" text-anchor="middle" fill="#000" stroke="#000" stroke-width="0.22" >7</text>
<text x="681.95" y="449.2" font-size="8.1" font-weight="bold" text-anchor="middle" fill="#000" stroke="#000" stroke-width="0.22" >9</text>
<line x1="613.65" y1="450.9" x2="684.45" y2="450.9" stroke="#3c3c3c" stroke-width="1"/>
<text x="644.35" y="459.2" font-size="8.1" font-weight="bold" text-anchor="middle" fill="#000" stroke="#000" stroke-width="0.22" >TMX, d</text>
<text transform="translate(560.4,387.5) rotate(-90)" x="0" y="0" font-size="9.6" font-weight="bold" text-anchor="middle" stroke="#000" stroke-width="0.22">Relative <tspan font-style="italic">USP9X</tspan> mRNA</text>
<text transform="translate(570.6,388) rotate(-90)" x="0" y="0" font-size="9.6" font-weight="bold" text-anchor="middle" stroke="#000" stroke-width="0.22">expression</text>
<defs><filter id="bl" x="-20%" y="-50%" width="140%" height="200%"><feGaussianBlur stdDeviation="1.1"/></filter><filter id="bl2" x="-20%" y="-50%" width="140%" height="200%"><feGaussianBlur stdDeviation="0.95"/></filter></defs>
<text x="628" y="35.8" font-size="13.4" font-weight="normal" text-anchor="middle" fill="#000" stroke="#000" stroke-width="0.22" >TMX</text>
<line x1="581.4" y1="39.2" x2="674.5" y2="39.2" stroke="#111" stroke-width="1.1"/>
<text x="562.2" y="53.1" font-size="10" font-weight="normal" text-anchor="middle" fill="#000" stroke="#000" stroke-width="0.1" >Ctrl</text>
<text x="586.9" y="53.1" font-size="10" font-weight="normal" text-anchor="middle" fill="#000" stroke="#000" stroke-width="0.1" >1d</text>
<text x="608.8" y="53.1" font-size="10" font-weight="normal" text-anchor="middle" fill="#000" stroke="#000" stroke-width="0.1" >3d</text>
<text x="633.8" y="53.1" font-size="10" font-weight="normal" text-anchor="middle" fill="#000" stroke="#000" stroke-width="0.1" >5d</text>
<text x="657.5" y="53.1" font-size="10" font-weight="normal" text-anchor="middle" fill="#000" stroke="#000" stroke-width="0.1" >7d</text>
<text x="675.9" y="53.1" font-size="10" font-weight="normal" text-anchor="middle" fill="#000" stroke="#000" stroke-width="0.1" >9d</text>
<text x="701" y="55.8" font-size="9.6" font-weight="normal" text-anchor="middle" fill="#000" stroke="#000" stroke-width="0.22" >kDa</text>
<defs><radialGradient id="g0" cx="0.42" cy="0.62" r="0.75" gradientTransform="translate(0.5 0.5) scale(0.35 1) translate(-0.5 -0.5)"><stop offset="0" stop-color="#e4e4e4"/><stop offset="0.6" stop-color="#e0e0e0"/><stop offset="1" stop-color="#cdcdcd"/></radialGradient></defs>
<rect x="544" y="60.9" width="147.4" height="20.3" fill="url(#g0)" stroke="#3a3a3a" stroke-width="1.1"/>
<g filter="url(#bl2)">
<g opacity="0.17">
<rect x="548.12" y="71.02" width="13.17" height="3.96" fill="#000"/>
<ellipse cx="549.26" cy="73" rx="2.86" ry="2.2" fill="#000"/>
<ellipse cx="560.14" cy="73" rx="2.86" ry="2.2" fill="#000"/>
</g>
<g opacity="0.2">
<rect x="572.34" y="70.71" width="13.32" height="3.78" fill="#000"/>
<ellipse cx="573.43" cy="72.6" rx="2.73" ry="2.1" fill="#000"/>
<ellipse cx="584.57" cy="72.6" rx="2.73" ry="2.21" fill="#000"/>
</g>
<g opacity="0.52">
<rect x="596.95" y="69.12" width="14.4" height="4.75" fill="#000"/>
<ellipse cx="598.25" cy="71.5" rx="3.25" ry="2.25" fill="#000"/>
<ellipse cx="610.05" cy="71.5" rx="3.25" ry="2.75" fill="#000"/>
</g>
<g opacity="0.92">
<rect x="623.44" y="67.9" width="12.42" height="5.4" fill="#000"/>
<ellipse cx="625" cy="70.6" rx="3.9" ry="3.15" fill="#000"/>
<ellipse cx="634.3" cy="70.6" rx="3.9" ry="3" fill="#000"/>
</g>
<g opacity="0.88">
<rect x="647.74" y="68.55" width="14.12" height="5.7" fill="#000"/>
<ellipse cx="649.3" cy="71.4" rx="3.9" ry="3" fill="#000"/>
<ellipse cx="660.3" cy="71.4" rx="3.9" ry="3" fill="#000"/>
</g>
<g opacity="0.74">
<rect x="673.93" y="70.16" width="13.64" height="4.68" fill="#000"/>
<ellipse cx="675.28" cy="72.5" rx="3.38" ry="2.6" fill="#000"/>
<ellipse cx="686.22" cy="72.5" rx="3.38" ry="2.6" fill="#000"/>
</g>
</g>
<text x="539.3" y="72.85" font-size="11.6" font-weight="normal" text-anchor="end" fill="#111" stroke="#111" stroke-width="0.1" >ACSL4</text>
<line x1="691.5" y1="70.35" x2="702" y2="70.35" stroke="#222" stroke-width="1"/>
<text x="702.2" y="73.85" font-size="10.2" font-weight="normal" text-anchor="start" fill="#111" stroke="#111" stroke-width="0.22" >79</text>
<defs><radialGradient id="g1" cx="0.42" cy="0.62" r="0.75" gradientTransform="translate(0.5 0.5) scale(0.35 1) translate(-0.5 -0.5)"><stop offset="0" stop-color="#d8d8d8"/><stop offset="0.6" stop-color="#d2d2d2"/><stop offset="1" stop-color="#c9c9c9"/></radialGradient></defs>
<rect x="544" y="85.6" width="147.4" height="21.5" fill="url(#g1)" stroke="#3a3a3a" stroke-width="1.1"/>
<g filter="url(#bl2)">
<g opacity="1">
<rect x="549.5" y="95.25" width="18.71" height="5.5" fill="#000"/>
<ellipse cx="551.16" cy="98" rx="4.16" ry="3.26" fill="#000"/>
<ellipse cx="566.54" cy="98" rx="4.16" ry="3.26" fill="#000"/>
</g>
<g opacity="1">
<rect x="578.12" y="95.33" width="16.66" height="5.33" fill="#000"/>
<ellipse cx="579.73" cy="98" rx="4.03" ry="3.1" fill="#000"/>
<ellipse cx="593.17" cy="98" rx="4.03" ry="3.16" fill="#000"/>
</g>
<g opacity="1">
<rect x="604.7" y="95.05" width="14.41" height="5.5" fill="#000"/>
<ellipse cx="606.36" cy="97.8" rx="4.16" ry="3.26" fill="#000"/>
<ellipse cx="617.44" cy="97.8" rx="4.16" ry="3.2" fill="#000"/>
</g>
<g opacity="0.98">
<rect x="628.11" y="95.36" width="14.59" height="3.89" fill="#000"/>
<ellipse cx="629.51" cy="97.3" rx="3.51" ry="2.92" fill="#000"/>
<ellipse cx="641.29" cy="97.3" rx="3.51" ry="2.29" fill="#000"/>
</g>
<g opacity="0.9">
<rect x="651.59" y="95.14" width="14.11" height="3.31" fill="#000"/>
<ellipse cx="652.79" cy="96.8" rx="2.99" ry="2.3" fill="#000"/>
<ellipse cx="664.51" cy="96.8" rx="2.99" ry="2.18" fill="#000"/>
</g>
<g opacity="0.68">
<rect x="674.79" y="96.34" width="12.41" height="3.31" fill="#000"/>
<ellipse cx="675.99" cy="98" rx="2.99" ry="1.95" fill="#000"/>
<ellipse cx="686.01" cy="98" rx="2.99" ry="2.42" fill="#000"/>
</g>
</g>
<text x="539.3" y="99.35" font-size="11.6" font-weight="normal" text-anchor="end" fill="#111" stroke="#111" stroke-width="0.1" >FTH1</text>
<line x1="691.5" y1="96.05" x2="702" y2="96.05" stroke="#222" stroke-width="1"/>
<text x="702.2" y="99.55" font-size="10.2" font-weight="normal" text-anchor="start" fill="#111" stroke="#111" stroke-width="0.22" >21</text>
<defs><radialGradient id="g2" cx="0.42" cy="0.62" r="0.75" gradientTransform="translate(0.5 0.5) scale(0.35 1) translate(-0.5 -0.5)"><stop offset="0" stop-color="#b4b4b4"/><stop offset="0.6" stop-color="#a9a9a9"/><stop offset="1" stop-color="#9e9e9e"/></radialGradient></defs>
<rect x="544" y="111.8" width="147.4" height="20.2" fill="url(#g2)" stroke="#3a3a3a" stroke-width="1.1"/>
<g filter="url(#bl2)">
<g opacity="1">
<rect x="548.35" y="120.22" width="12.1" height="4.75" fill="#000"/>
<ellipse cx="549.65" cy="122.6" rx="3.25" ry="2.62" fill="#000"/>
<ellipse cx="559.15" cy="122.6" rx="3.25" ry="2.12" fill="#000"/>
</g>
<g opacity="1">
<rect x="572.45" y="120.83" width="12.9" height="4.75" fill="#000"/>
<ellipse cx="573.75" cy="123.2" rx="3.25" ry="2.55" fill="#000"/>
<ellipse cx="584.05" cy="123.2" rx="3.25" ry="2.3" fill="#000"/>
</g>
<g opacity="1">
<rect x="600.06" y="120.3" width="10.38" height="5.8" fill="#000"/>
<ellipse cx="601.57" cy="123.2" rx="3.77" ry="2.9" fill="#000"/>
<ellipse cx="608.93" cy="123.2" rx="3.77" ry="2.9" fill="#000"/>
</g>
<g opacity="0.8">
<rect x="622.82" y="121.38" width="13.67" height="4.05" fill="#000"/>
<ellipse cx="623.96" cy="123.4" rx="2.86" ry="2.31" fill="#000"/>
<ellipse cx="635.34" cy="123.4" rx="2.86" ry="1.87" fill="#000"/>
</g>
<g opacity="0.42">
<rect x="648.4" y="120.68" width="13.79" height="3.24" fill="#000"/>
<ellipse cx="649.34" cy="122.3" rx="2.34" ry="1.8" fill="#000"/>
<ellipse cx="661.26" cy="122.3" rx="2.34" ry="1.8" fill="#000"/>
</g>
<g opacity="0.58">
<rect x="674.56" y="121.3" width="12.38" height="3.6" fill="#000"/>
<ellipse cx="675.6" cy="123.1" rx="2.6" ry="2" fill="#000"/>
<ellipse cx="685.9" cy="123.1" rx="2.6" ry="2" fill="#000"/>
</g>
</g>
<text x="539.3" y="126" font-size="11.6" font-weight="normal" text-anchor="end" fill="#111" stroke="#111" stroke-width="0.1" >GPX4</text>
<line x1="691.5" y1="121.6" x2="702" y2="121.6" stroke="#222" stroke-width="1"/>
<text x="702.2" y="125.1" font-size="10.2" font-weight="normal" text-anchor="start" fill="#111" stroke="#111" stroke-width="0.22" >17</text>
<defs><radialGradient id="g3" cx="0.42" cy="0.62" r="0.75" gradientTransform="translate(0.5 0.5) scale(0.35 1) translate(-0.5 -0.5)"><stop offset="0" stop-color="#e4e4e4"/><stop offset="0.6" stop-color="#dcdcdc"/><stop offset="1" stop-color="#d4d4d4"/></radialGradient></defs>
<rect x="544" y="136.7" width="147.4" height="21.6" fill="url(#g3)" stroke="#3a3a3a" stroke-width="1.1"/>
<g filter="url(#bl2)">
<g opacity="1">
<rect x="549.11" y="145.87" width="18.99" height="4.86" fill="#000"/>
<ellipse cx="550.51" cy="148.3" rx="3.51" ry="2.7" fill="#000"/>
<ellipse cx="566.69" cy="148.3" rx="3.51" ry="2.7" fill="#000"/>
</g>
<g opacity="1">
<rect x="573.71" y="145.37" width="17.59" height="4.86" fill="#000"/>
<ellipse cx="575.11" cy="147.8" rx="3.51" ry="2.7" fill="#000"/>
<ellipse cx="589.89" cy="147.8" rx="3.51" ry="2.7" fill="#000"/>
</g>
<g opacity="1">
<rect x="597.47" y="145.84" width="16.66" height="4.32" fill="#000"/>
<ellipse cx="598.72" cy="148" rx="3.12" ry="2.4" fill="#000"/>
<ellipse cx="612.88" cy="148" rx="3.12" ry="2.4" fill="#000"/>
</g>
<g opacity="1">
<rect x="620.25" y="145.85" width="16.6" height="4.5" fill="#000"/>
<ellipse cx="621.55" cy="148.1" rx="3.25" ry="2.62" fill="#000"/>
<ellipse cx="635.55" cy="148.1" rx="3.25" ry="2.5" fill="#000"/>
</g>
<g opacity="1">
<rect x="642.87" y="146.64" width="18.86" height="4.32" fill="#000"/>
<ellipse cx="644.12" cy="148.8" rx="3.12" ry="2.4" fill="#000"/>
<ellipse cx="660.48" cy="148.8" rx="3.12" ry="2.4" fill="#000"/>
</g>
<g opacity="1">
<rect x="667.98" y="147.04" width="18.83" height="5.32" fill="#000"/>
<ellipse cx="669.44" cy="149.7" rx="3.64" ry="2.8" fill="#000"/>
<ellipse cx="685.36" cy="149.7" rx="3.64" ry="2.8" fill="#000"/>
</g>
</g>
<text x="539.3" y="152.8" font-size="11.6" font-weight="normal" text-anchor="end" fill="#111" stroke="#111" stroke-width="0.1" >GAPDH</text>
<line x1="691.5" y1="146.2" x2="702" y2="146.2" stroke="#222" stroke-width="1"/>
<text x="702.2" y="149.7" font-size="10.2" font-weight="normal" text-anchor="start" fill="#111" stroke="#111" stroke-width="0.22" >36</text>
<text x="18.4" y="38.2" font-size="14" font-weight="normal" text-anchor="start" fill="#000" stroke="#000" stroke-width="0.1" >E</text>
<text x="180.1" y="38.2" font-size="14" font-weight="normal" text-anchor="start" fill="#000" stroke="#000" stroke-width="0.1" >F</text>
<text x="328.5" y="38.2" font-size="14" font-weight="normal" text-anchor="start" fill="#000" stroke="#000" stroke-width="0.1" >G</text>
<text x="491.3" y="38.2" font-size="14" font-weight="normal" text-anchor="start" fill="#000" stroke="#000" stroke-width="0.1" >H</text>
<text x="552" y="184.3" font-size="14" font-weight="normal" text-anchor="start" fill="#000" stroke="#000" stroke-width="0.1" >I</text>
<text x="18.5" y="335.5" font-size="14" font-weight="normal" text-anchor="start" fill="#000" stroke="#000" stroke-width="0.1" >J</text>
<text x="189.3" y="335.5" font-size="14" font-weight="normal" text-anchor="start" fill="#000" stroke="#000" stroke-width="0.1" >K</text>
<text x="361" y="335.5" font-size="14" font-weight="normal" text-anchor="start" fill="#000" stroke="#000" stroke-width="0.1" >L</text>
<text x="532" y="335.5" font-size="14" font-weight="normal" text-anchor="start" fill="#000" stroke="#000" stroke-width="0.1" >M</text>
<text x="7" y="472.3" font-size="14" font-weight="normal" text-anchor="start" fill="#000" stroke="#000" stroke-width="0.1" >N</text>
<text x="362.5" y="472.4" font-size="14" font-weight="normal" text-anchor="start" fill="#000" stroke="#000" stroke-width="0.1" >O</text>
</svg>
</body></html>
